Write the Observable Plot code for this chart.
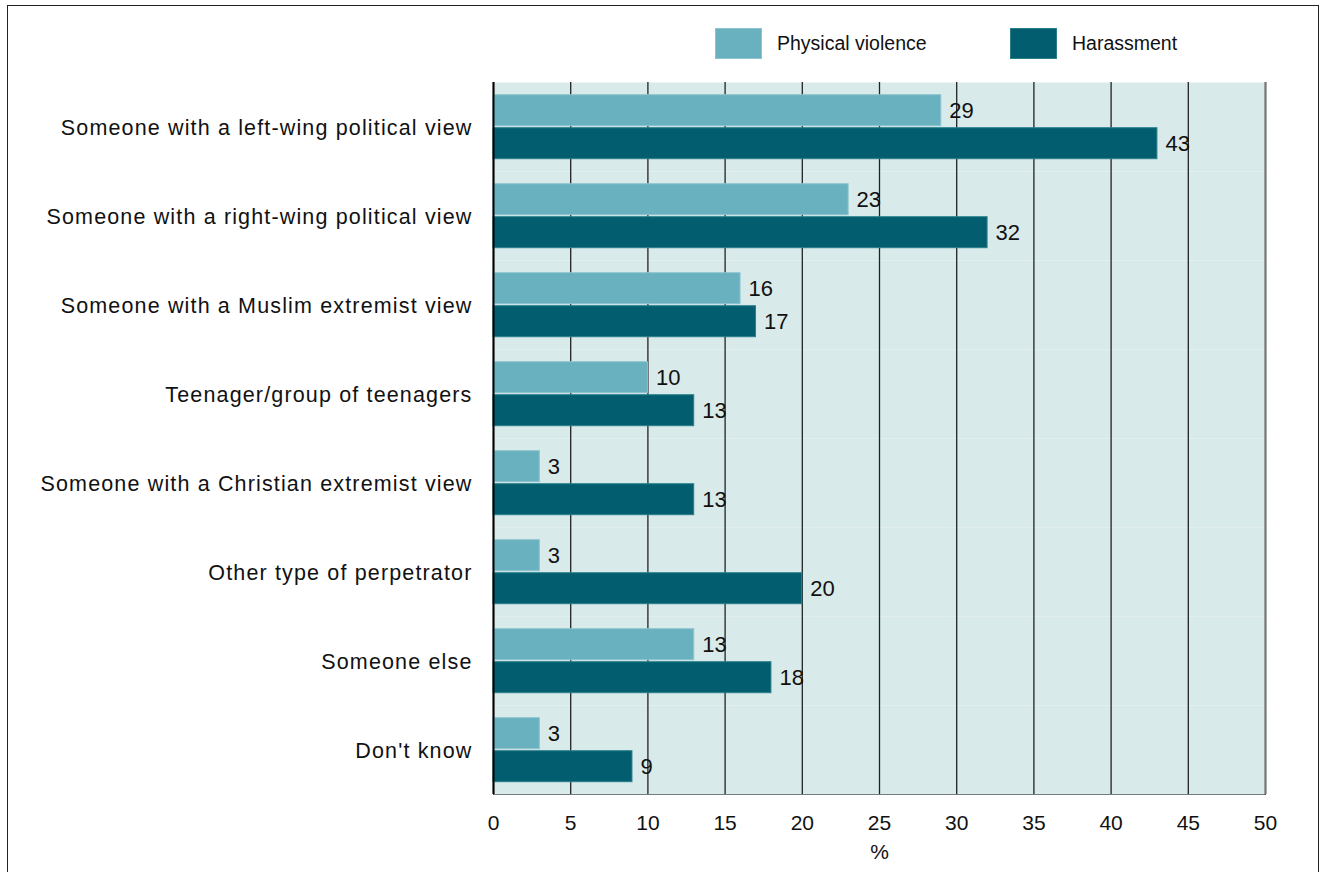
<!DOCTYPE html>
<html><head><meta charset="utf-8">
<script src="https://cdn.jsdelivr.net/npm/d3@7"></script>
<script src="https://cdn.jsdelivr.net/npm/@observablehq/plot@0.6"></script>
<style>
body{margin:0;background:#fff;font-family:"Liberation Sans",Arial,sans-serif;color:#111;}
#wrap{position:relative;width:1322px;height:872px;overflow:hidden;background:#fff;}
#border{position:absolute;left:7px;top:5px;width:1312px;height:900px;border:1.5px solid #222;box-sizing:border-box;}
#legend{position:absolute;top:0;left:0;width:1322px;height:70px;}
.item{position:absolute;top:28px;height:31px;display:flex;align-items:center;}
.sw{width:47px;height:31px;box-sizing:border-box;}
.lb{margin-left:15px;font-size:19.5px;color:#111;}
#chart{position:absolute;top:70px;left:0;}
#chart g[aria-label="fy-axis tick label"] text{letter-spacing:1.15px;}
</style>
</head><body>
<div id="wrap">
  <div id="border"></div>
  <div id="legend"></div>
  <div id="chart"></div>
</div>
<script>
const categories = [
  "Someone with a left-wing political view",
  "Someone with a right-wing political view",
  "Someone with a Muslim extremist view",
  "Teenager/group of teenagers",
  "Someone with a Christian extremist view",
  "Other type of perpetrator",
  "Someone else",
  "Don't know"
];
const series = ["Physical violence", "Harassment"];
const physical = [29, 23, 16, 10, 3, 3, 13, 3];
const harassment = [43, 32, 17, 13, 13, 20, 18, 9];
const xTicks = [0, 5, 10, 15, 20, 25, 30, 35, 40, 45, 50];
const colors = ["#6ab1bf", "#025e6e"];
const legendLeft = [715, 1010];
const bg = "#d9eaea";

const rows = [];
categories.forEach((c, i) => {
  rows.push({cat: c, series: series[0], value: physical[i]});
  rows.push({cat: c, series: series[1], value: harassment[i]});
});

// legend
const legend = document.getElementById("legend");
series.forEach((s, i) => {
  const it = document.createElement("div");
  it.className = "item";
  it.style.left = legendLeft[i] + "px";
  it.innerHTML = `<div class="sw" style="background:${colors[i]};border:1px solid ${i ? '#2b7f8c' : '#8cc4cf'}"></div><div class="lb">${s}</div>`;
  legend.appendChild(it);
});

const chart = Plot.plot({
  width: 1322,
  height: 802,
  marginTop: 9.3,
  marginLeft: 493,
  marginRight: 57,
  marginBottom: 76.3,
  style: {fontFamily: '"Liberation Sans", Arial, sans-serif', fontSize: "21px", color: "#111", background: "transparent", overflow: "visible"},
  x: {domain: [0, 50], ticks: xTicks, tickSize: 0, tickPadding: 21, line: true, label: "%", labelAnchor: "center", labelArrow: "none", labelOffset: 64},
  y: {domain: series, axis: null, paddingInner: 0.06, paddingOuter: 0.367, align: 0.5},
  fy: {domain: categories, padding: 0, axis: null},
  color: {domain: series, range: colors},
  marks: [
    Plot.frame({fill: bg, stroke: "none"}),
    Plot.ruleX(xTicks, {stroke: "#222", strokeWidth: 1.3}),
    Plot.ruleX([50], {stroke: "#777", strokeWidth: 2}),
    Plot.barX(rows, {x: "value", y: "series", fy: "cat", fill: "series", stroke: d => d.series === series[0] ? "#8cc4cf" : "#2b7f8c", strokeWidth: 1}),
    Plot.ruleX([0], {stroke: "#000", strokeWidth: 2}),
    Plot.text(rows, {x: "value", y: "series", fy: "cat", text: d => String(d.value), dx: 8, textAnchor: "start", fontSize: 22, fill: "#111"}),
    Plot.axisFy({anchor: "left", tickSize: 0, tickPadding: 21, label: null, fontSize: 21.5, dy: 1})
  ]
});
document.getElementById("chart").appendChild(chart);
</script>
</body></html>
